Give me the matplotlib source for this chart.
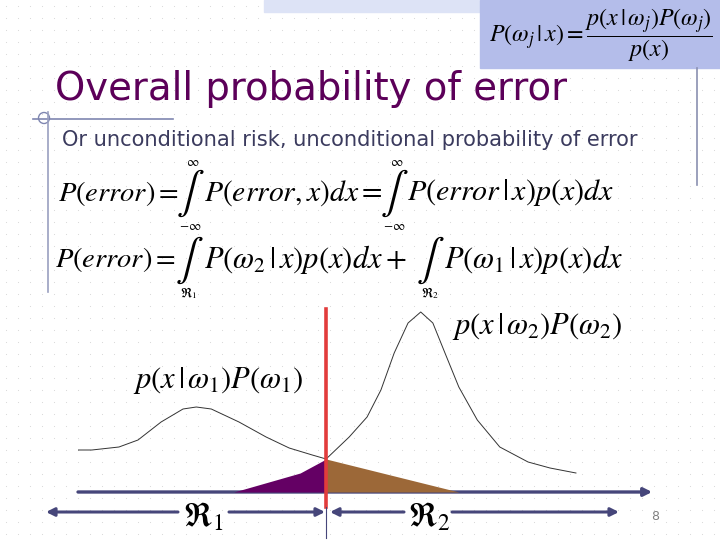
import numpy as np
import matplotlib
matplotlib.use('Agg')
import matplotlib.pyplot as plt
from matplotlib.patches import Rectangle, Circle

plt.rcParams['mathtext.fontset'] = 'stix'

# curve data (x in arbitrary units, y = weighted density)
class1_x = [0.00, 0.24, 0.71, 1.04, 1.44, 1.82, 2.05, 2.31, 2.79, 3.26, 3.66, 4.06, 4.30]
class1_y = [0.42, 0.42, 0.45, 0.52, 0.70, 0.83, 0.85, 0.83, 0.70, 0.55, 0.44, 0.37, 0.33]
class2_x = [4.30, 4.70, 5.01, 5.25, 5.48, 5.72, 5.94, 6.15, 6.36, 6.60, 6.92, 7.31, 7.80, 8.18, 8.63]
class2_y = [0.33, 0.55, 0.75, 1.02, 1.39, 1.69, 1.80, 1.69, 1.39, 1.05, 0.72, 0.45, 0.30, 0.24, 0.19]

# error areas: tail of class 2 inside R1, tail of class 1 inside R2
err_r1_x = [2.70, 3.85, 4.30]
err_r1_y = [0.00, 0.19, 0.33]
err_r2_x = [4.30, 6.60]
err_r2_y = [0.33, 0.00]

boundary = 4.30

title = 'Overall probability of error'
subtitle = 'Or unconditional risk, unconditional probability of error'

W, H = 720, 540
fig = plt.figure(figsize=(7.2, 5.4), dpi=100)

# background / slide layer in pixel coordinates
bg = fig.add_axes([0, 0, 1, 1])
bg.set_xlim(0, W)
bg.set_ylim(H, 0)
bg.axis('off')

# dotted slide grid
gx, gy = np.meshgrid(np.arange(6, W, 12), np.arange(6, H, 12))
bg.scatter(gx.ravel(), gy.ravel(), s=0.6, color='#d6d6d6', zorder=0, linewidths=0)

# header band and formula box
bg.add_patch(Rectangle((264, 0), 216, 12, color='#dde3f6', zorder=1))
bg.add_patch(Rectangle((480, 0), 240, 68, color='#b4bdea', zorder=1))
bg.plot([697, 697], [68, 185], color='#8a90b0', lw=1.2, zorder=1)
bg.text(601, 35, r'$P(\omega_j\,|\,x) = \dfrac{p(x\,|\,\omega_j)P(\omega_j)}{p(x)}$',
        fontsize=17.3, ha='center', va='center', zorder=2)

# title decoration
bg.plot([33, 173], [119, 119], color='#7f86b0', lw=1.2)
bg.plot([48, 48], [112, 292], color='#9aa0c0', lw=1.2)
bg.add_patch(Circle((44, 118), 5.5, fill=False, ec='#7f86b0', lw=1))

bg.text(55, 100, title, fontsize=27.8, color='#5c0059', family='DejaVu Sans', va='baseline')
bg.text(62, 146, subtitle, fontsize=15.1, color='#3b3b5e', family='DejaVu Sans', va='baseline')


def integral(x, y, upper, lower):
    bg.text(x, y, r'$\int$', fontsize=30, ha='center', va='center')
    if upper:
        bg.text(x + 3, y - 31, upper, fontsize=9.5, ha='center', va='center')
    if lower:
        bg.text(x, y + 33, lower, fontsize=9.5, ha='center', va='center')


# first equation
y1 = 193
bg.text(58, y1, r'$P(error) =$', fontsize=20.5, va='center')
integral(190, y1, r'$\infty$', r'$-\infty$')
bg.text(204, y1, r'$P(error, x)dx =$', fontsize=21.3, va='center')
integral(394, y1, r'$\infty$', r'$-\infty$')
bg.text(407, y1, r'$P(error\,|\,x)p(x)dx$', fontsize=21.6, va='center')

# second equation
y2 = 260
bg.text(55, y2, r'$P(error) =$', fontsize=20.5, va='center')
integral(189, y2, None, r'$\Re_1$')
bg.text(204, y2, r'$P(\omega_2\,|\,x)p(x)dx +$', fontsize=22, va='center')
integral(430, y2, None, r'$\Re_2$')
bg.text(444, y2, r'$P(\omega_1\,|\,x)p(x)dx$', fontsize=22, va='center')

bg.text(537, 327, r'$p(x\,|\,\omega_2)P(\omega_2)$', fontsize=22, ha='center', va='center')
bg.text(218, 380, r'$p(x\,|\,\omega_1)P(\omega_1)$', fontsize=22, ha='center', va='center')

# region arrows below the axis
arrow_kw = dict(arrowstyle='-|>', color='#46467a', lw=2.2, mutation_scale=12, shrinkA=0, shrinkB=0)
bg.annotate('', xy=(46, 512), xytext=(178, 512), arrowprops=arrow_kw)
bg.annotate('', xy=(325, 512), xytext=(229, 512), arrowprops=arrow_kw)
bg.annotate('', xy=(330, 512), xytext=(404, 512), arrowprops=arrow_kw)
bg.annotate('', xy=(619, 512), xytext=(452, 512), arrowprops=arrow_kw)
bg.text(203, 517, r'$\Re_1$', fontsize=24, ha='center', va='center')
bg.text(429, 517, r'$\Re_2$', fontsize=24, ha='center', va='center')
bg.text(655, 517, '8', fontsize=9, color='#808080', ha='center', va='center')

# plot layer: x pixels 78..655, baseline at y=492, 100 px per y unit
ax = fig.add_axes([78 / W, (H - 492) / H, 577 / W, 200 / H])
ax.set_xlim(0, 10)
ax.set_ylim(0, 2.0)
ax.axis('off')
ax.patch.set_alpha(0)

ax.fill_between(err_r1_x, err_r1_y, 0, color='#640064', lw=0, zorder=2)
ax.fill_between(err_r2_x, err_r2_y, 0, color='#9c6838', lw=0, zorder=2)
ax.plot(class1_x, class1_y, color='#333333', lw=0.7, zorder=3)
ax.plot(class2_x, class2_y, color='#333333', lw=0.7, zorder=3)

ax.annotate('', xy=(9.95, 0), xytext=(0, 0), xycoords='data',
            arrowprops=dict(arrowstyle='-|>', color='#46467a', lw=2.4,
                            mutation_scale=12, shrinkA=0, shrinkB=0),
            annotation_clip=False, zorder=1)

ax.plot([boundary, boundary], [-0.15, 1.83], color='#e23c3c', lw=2.6, clip_on=False, zorder=4)
ax.plot([boundary, boundary], [-0.15, -0.46], color='#46467a', lw=0.8, clip_on=False, zorder=4)

fig.savefig('out.png', dpi=100)
